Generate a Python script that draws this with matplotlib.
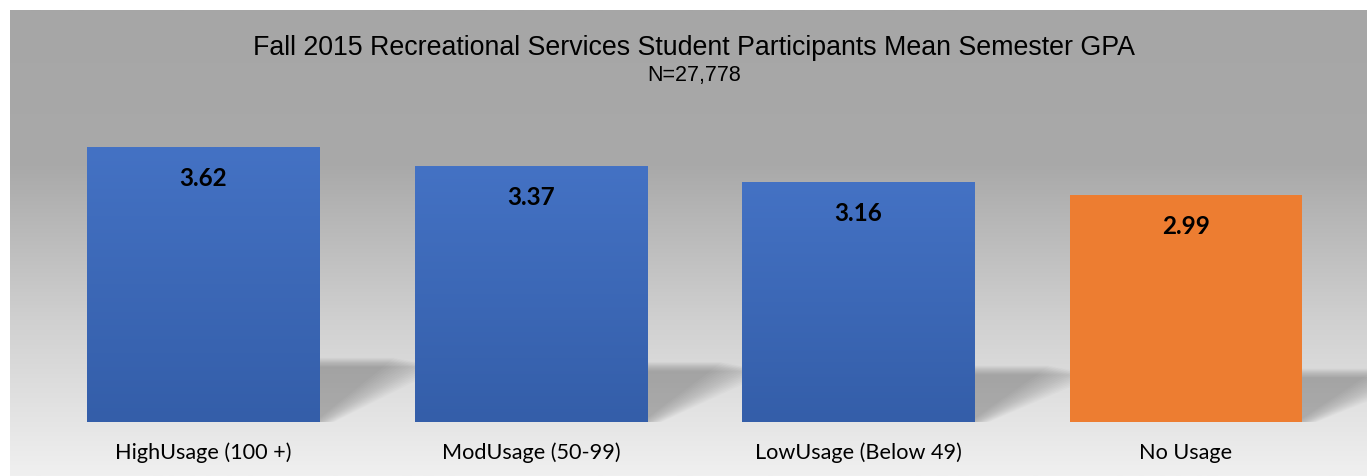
import numpy as np
import matplotlib.pyplot as plt
from matplotlib.patches import Polygon
from matplotlib.colors import LinearSegmentedColormap

# Data
categories = ['HighUsage (100 +)', 'ModUsage (50-99)', 'LowUsage (Below 49)', 'No Usage']
gpa = [3.62, 3.37, 3.16, 2.99]
bar_colors = ['#4472C4', '#4472C4', '#4472C4', '#ED7D31']
title = 'Fall 2015 Recreational Services Student Participants Mean Semester GPA'
subtitle = 'N=27,778'

W, H = 1367, 476
fig = plt.figure(figsize=(W / 100, H / 100), dpi=100)
fig.patch.set_facecolor('white')

# grey gradient panel behind everything
panel = [10 / W, 0, (W - 10) / W, (H - 10) / H]
bg = fig.add_axes(panel, zorder=0)
grad = np.linspace(0, 1, 256).reshape(-1, 1)
bg_cmap = LinearSegmentedColormap.from_list('bg', ['#a6a6a6', '#a9a9a9', '#d0d0d0', '#f0f0f0'])
bg.imshow(grad, aspect='auto', cmap=bg_cmap, extent=[0, 1, 0, 1], origin='upper')
bg.set_axis_off()

ax = fig.add_axes(panel, zorder=1)
ax.patch.set_alpha(0)

x = np.arange(len(categories))
bar_w = 0.71
step = 327.5  # px per category
ax.set_xlim((10 - 203.5) / step, (W - 203.5) / step)
ppu = 75.9  # px per GPA unit
ax.set_ylim(-(H - 422) / ppu, (422 - 10) / ppu)

# soft perspective shadows (stacked faint polygons to fake a blur)
for xi, v in zip(x, gpa):
    sh = 0.225 * v
    dx = 0.27
    for k in range(16):
        g = (k - 4) * 0.01
        poly = Polygon([(xi - bar_w / 2, 0), (xi + bar_w / 2 + g * 0.4, 0),
                        (xi + bar_w / 2 + dx + g, sh - g * 0.8),
                        (xi - bar_w / 2 + dx, sh - g * 0.8)],
                       closed=True, facecolor='black', edgecolor='none', alpha=0.014, zorder=1)
        ax.add_patch(poly)

bars = ax.bar(x, gpa, width=bar_w, color=bar_colors, zorder=2)

# vertical gradient on the blue bars
blue_cmap = LinearSegmentedColormap.from_list('blu', ['#4472C4', '#345EA9'])
for b, c in zip(bars, bar_colors):
    if c != '#4472C4':
        continue
    x0, w, h = b.get_x(), b.get_width(), b.get_height()
    im = ax.imshow(grad, aspect='auto', cmap=blue_cmap, extent=[x0, x0 + w, 0, h],
                   origin='upper', zorder=2.5)
    im.set_clip_path(b)

for xi, v in zip(x, gpa):
    ax.annotate(f'{v:.2f}', (xi, v), xytext=(0, -22.5), textcoords='offset points',
                ha='center', va='center', fontsize=17.5, fontweight='bold',
                family='Lato', color='black', zorder=3)

for xi, cat in zip(x, categories):
    ax.text(xi, -31 / ppu, cat, ha='center', va='center', fontsize=15.6,
            family='Lato', color='black', zorder=3)

ax.set_xticks([])
ax.set_yticks([])
for s in ax.spines.values():
    s.set_visible(False)

fig.text(694 / W, 1 - 55 / H, title, ha='center', va='baseline', fontsize=19.3,
         family='Liberation Sans', color='black')
fig.text(694 / W, 1 - 81 / H, subtitle, ha='center', va='baseline', fontsize=15.5,
         family='Liberation Sans', color='black')

fig.savefig('out.png', dpi=100)
